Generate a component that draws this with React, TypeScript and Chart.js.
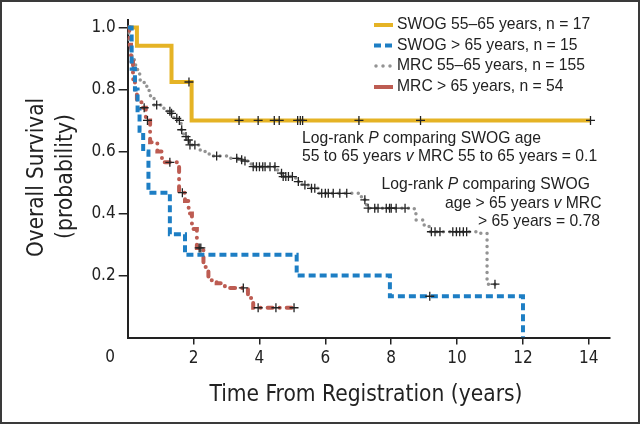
import React, { useEffect, useRef } from "react";
import { Chart, registerables } from "chart.js";

Chart.register(...registerables);

// ---------- data ----------
const X_TICKS = [2, 4, 6, 8, 10, 12, 14];
const Y_TICKS = [0.2, 0.4, 0.6, 0.8, 1.0];

const LEGEND_LABELS = [
  "SWOG 55\u201365 years, n = 17",
  "SWOG > 65 years, n = 15",
  "MRC 55\u201365 years, n = 155",
  "MRC > 65 years, n = 54",
];

// SWOG 55-65
const swogYoungTime = [0, 0.28, 1.33, 1.94, 14.05];
const swogYoungSurv = [1.0, 0.941, 0.824, 0.7, 0.7];
const swogYoungCensor = [1.86, 3.38, 3.96, 4.45, 4.6, 5.16, 5.24, 5.31, 7.02, 8.89, 14.05];

// SWOG > 65
const swogOldTime = [0, 0.12, 0.22, 0.3, 0.36, 0.47, 0.63, 1.28, 1.74, 5.13, 7.96, 12.0];
const swogOldSurv = [1.0, 0.867, 0.8, 0.733, 0.667, 0.6, 0.467, 0.333, 0.267, 0.2, 0.133, 0];
const swogOldCensor = [9.17];

// MRC 55-65
const mrcYoungTime = [0, 0.03, 0.06, 0.1, 0.13, 0.2, 0.24, 0.3, 0.38, 0.5, 0.65, 0.8, 1.1, 1.3, 1.4, 1.55, 1.62, 1.7, 1.8, 1.87, 2.2, 2.35, 2.6, 3.0, 3.4, 3.5, 3.75, 4.55, 4.7, 5.1, 5.3, 5.5, 5.8, 7.0, 7.1, 7.25, 8.7, 8.75, 9.0, 9.15, 10.72, 10.91, 11.15];
const mrcYoungSurv = [1.0, 0.96, 0.94, 0.92, 0.905, 0.88, 0.87, 0.85, 0.83, 0.81, 0.78, 0.75, 0.73, 0.723, 0.707, 0.7, 0.67, 0.648, 0.637, 0.621, 0.605, 0.592, 0.585, 0.578, 0.573, 0.569, 0.551, 0.53, 0.519, 0.503, 0.492, 0.481, 0.465, 0.454, 0.444, 0.417, 0.406, 0.379, 0.363, 0.341, 0.336, 0.172, 0.172];
const mrcYoungCensor = [0.88, 1.28, 1.33, 1.49, 1.57, 1.64, 1.77, 1.84, 1.89, 2.04, 2.7, 3.31, 3.46, 3.56, 3.81, 3.91, 4.0, 4.1, 4.17, 4.32, 4.47, 4.67, 4.72, 4.8, 4.88, 5.0, 5.18, 5.38, 5.58, 5.68, 5.89, 6.0, 6.09, 6.24, 6.44, 6.65, 7.2, 7.3, 7.5, 7.6, 7.85, 7.95, 8.0, 8.15, 8.42, 9.22, 9.33, 9.48, 9.87, 9.98, 10.08, 10.19, 10.29, 11.15];

// MRC > 65
const mrcOldTime = [0, 0.05, 0.1, 0.16, 0.22, 0.28, 0.45, 0.55, 0.68, 0.9, 1.04, 1.56, 1.74, 1.85, 1.95, 2.1, 2.3, 2.45, 2.7, 2.95, 3.65, 3.81, 5.05];
const mrcOldSurv = [1.0, 0.944, 0.889, 0.833, 0.796, 0.759, 0.741, 0.7, 0.63, 0.6, 0.565, 0.467, 0.44, 0.4, 0.35, 0.289, 0.227, 0.185, 0.175, 0.16, 0.127, 0.096, 0.096];
const mrcOldCensor = [0.5, 0.6, 1.28, 1.66, 2.17, 2.22, 3.51, 3.96, 4.5, 5.05];

// ---------- styles ----------
const YELLOW = "#e5b325";
const BLUE = "#1d7ec4";
const GRAY = "#939393";
const RED = "#bd5c52";
const INK = "#222222";
const FONT_COND = "'Liberation Sans Narrow', 'DejaVu Sans Condensed', 'Arial Narrow', Roboto, sans-serif";
const FONT_REG = "'Liberation Sans', Arial, Helvetica, sans-serif";

function stepValue(times: number[], surv: number[], t: number) {
  let v = surv[0];
  for (let i = 0; i < times.length; i++) if (times[i] <= t) v = surv[i];
  return v;
}
function curve(times: number[], surv: number[]) {
  return times.map((t, i) => ({ x: t, y: surv[i] }));
}
function censorPts(times: number[], surv: number[], cens: number[]) {
  return cens.map((t) => ({ x: t, y: stepValue(times, surv, t) }));
}

function fitText(ctx: CanvasRenderingContext2D, text: string, cx: number, cy: number, font: string, width: number, rotate = 0) {
  ctx.save();
  ctx.font = font;
  const w = ctx.measureText(text).width;
  const s = width / w;
  ctx.translate(cx, cy);
  if (rotate) ctx.rotate(rotate);
  ctx.scale(s, 1);
  ctx.textAlign = "center";
  ctx.textBaseline = "middle";
  ctx.fillText(text, 0, 0);
  ctx.restore();
}

type Run = [string, boolean];
function drawRuns(ctx: CanvasRenderingContext2D, runs: Run[], x: number, y: number, size: number) {
  let cx = x;
  ctx.textAlign = "left";
  ctx.textBaseline = "middle";
  for (const [t, it] of runs) {
    ctx.font = `${it ? "italic " : ""}${size}px ${FONT_REG}`;
    ctx.fillText(t, cx, y);
    cx += ctx.measureText(t).width;
  }
}

const decor = {
  id: "decor",
  beforeDraw(chart: any) {
    const ctx = chart.ctx;
    ctx.save();
    ctx.fillStyle = "#fff";
    ctx.fillRect(0, 0, chart.width, chart.height);
    ctx.restore();
  },
  afterDraw(chart: any) {
    const ctx: CanvasRenderingContext2D = chart.ctx;
    ctx.save();
    ctx.fillStyle = INK;
    // origin label
    ctx.font = `17px ${FONT_COND}`;
    ctx.textAlign = "center";
    ctx.textBaseline = "middle";
    ctx.fillText("0", 110, 358);
    // axis titles
    fitText(ctx, "Overall Survival", 37, 177.5, `23px ${FONT_COND}`, 159, -Math.PI / 2);
    fitText(ctx, "(probability)", 66.5, 176.5, `23px ${FONT_COND}`, 125, -Math.PI / 2);
    fitText(ctx, "Time From Registration (years)", 366, 395, `23px ${FONT_COND}`, 313);

    // legend
    const rows = [25, 45.5, 66, 87];
    const x0 = 374, x1 = 393;
    ctx.lineWidth = 4;
    ctx.lineCap = "butt";
    ctx.strokeStyle = YELLOW; ctx.setLineDash([]);
    ctx.beginPath(); ctx.moveTo(x0, rows[0]); ctx.lineTo(x1, rows[0]); ctx.stroke();
    ctx.strokeStyle = BLUE; ctx.setLineDash([7, 4]);
    ctx.beginPath(); ctx.moveTo(x0, rows[1]); ctx.lineTo(x1, rows[1]); ctx.stroke();
    ctx.strokeStyle = GRAY; ctx.setLineDash([0, 7]); ctx.lineCap = "round"; ctx.lineWidth = 3.5;
    ctx.beginPath(); ctx.moveTo(x0 + 2, rows[2]); ctx.lineTo(x1 - 1, rows[2]); ctx.stroke();
    ctx.strokeStyle = RED; ctx.setLineDash([]); ctx.lineCap = "butt"; ctx.lineWidth = 4;
    ctx.beginPath(); ctx.moveTo(x0, rows[3]); ctx.lineTo(x1, rows[3]); ctx.stroke();

    ctx.fillStyle = INK;
    ctx.font = `15.7px ${FONT_REG}`;
    ctx.textAlign = "left";
    ctx.textBaseline = "middle";
    LEGEND_LABELS.forEach((l, i) => ctx.fillText(l, 397, rows[i]));

    // annotations
    const fs = 15.7;
    drawRuns(ctx, [["Log-rank ", false], ["P", true], [" comparing SWOG age", false]], 302, 138.5, fs);
    drawRuns(ctx, [["55 to 65 years ", false], ["v", true], [" MRC 55 to 65 years = 0.1", false]], 302, 157, fs);
    drawRuns(ctx, [["Log-rank ", false], ["P", true], [" comparing SWOG", false]], 381.5, 185, fs);
    drawRuns(ctx, [["age > 65 years ", false], ["v", true], [" MRC", false]], 445, 203.5, fs);
    drawRuns(ctx, [["> 65 years = 0.78", false]], 478, 222, fs);

    // frame
    ctx.setLineDash([]);
    ctx.strokeStyle = "#3a3a3a";
    ctx.lineWidth = 2;
    ctx.strokeRect(1, 1, chart.width - 2, chart.height - 2);
    ctx.restore();
  },
};

export default function App() {
  const ref = useRef<HTMLCanvasElement>(null);
  useEffect(() => {
    const lineBase = { pointRadius: 0, fill: false, stepped: true, tension: 0 };
    const censorBase = {
      showLine: false,
      pointStyle: "cross",
      pointRadius: 4.5,
      pointBorderColor: INK,
      pointBackgroundColor: INK,
      pointBorderWidth: 1.3,
      borderColor: INK,
    };
    const chart = new Chart(ref.current as HTMLCanvasElement, {
      type: "line",
      data: {
        datasets: [
          { ...censorBase, label: "c1", data: censorPts(swogYoungTime, swogYoungSurv, swogYoungCensor), order: 0 },
          { ...censorBase, label: "c2", data: censorPts(swogOldTime, swogOldSurv, swogOldCensor), order: 0 },
          { ...censorBase, label: "c3", data: censorPts(mrcYoungTime, mrcYoungSurv, mrcYoungCensor), order: 0 },
          { ...censorBase, label: "c4", data: censorPts(mrcOldTime, mrcOldSurv, mrcOldCensor), order: 0 },
          { ...lineBase, label: LEGEND_LABELS[0], data: curve(swogYoungTime, swogYoungSurv), borderColor: YELLOW, borderWidth: 4, order: 3 },
          { ...lineBase, label: LEGEND_LABELS[1], data: curve(swogOldTime, swogOldSurv), borderColor: BLUE, borderWidth: 4, borderDash: [7, 4], order: 1 },
          { ...lineBase, label: LEGEND_LABELS[2], data: curve(mrcYoungTime, mrcYoungSurv), borderColor: GRAY, borderWidth: 3.5, borderDash: [0, 6.5], borderCapStyle: "round", order: 4 },
          { ...lineBase, label: LEGEND_LABELS[3], data: curve(mrcOldTime, mrcOldSurv), borderColor: RED, borderWidth: 4, borderDash: [5, 7, 0.1, 7], borderCapStyle: "round", order: 2 },
        ] as any,
      },
      options: {
        responsive: false,
        animation: false,
        devicePixelRatio: 1,
        events: [],
        layout: { padding: { left: 0, right: 30.4, top: 20, bottom: 0 } },
        plugins: { legend: { display: false }, tooltip: { enabled: false } },
        scales: {
          x: {
            type: "linear",
            min: 0,
            max: 14.63,
            afterBuildTicks: (s: any) => { s.ticks = X_TICKS.map((v) => ({ value: v })); },
            afterFit: (s: any) => { s.height = 86.5; },
            ticks: { autoSkip: false, maxRotation: 0, minRotation: 0, color: INK, padding: 4, font: { family: FONT_COND, size: 17 }, callback: (v: any) => String(v) },
            grid: { display: true, drawOnChartArea: false, drawTicks: true, tickLength: 7, color: INK, lineWidth: 1.5 },
            border: { display: true, color: INK, width: 2 },
          },
          y: {
            type: "linear",
            min: 0,
            max: 1.024,
            afterBuildTicks: (s: any) => { s.ticks = Y_TICKS.map((v) => ({ value: v })); },
            afterFit: (s: any) => { s.width = 127.7; },
            ticks: { color: INK, padding: 3, font: { family: FONT_COND, size: 17 }, callback: (v: any) => Number(v).toFixed(1) },
            grid: { display: true, drawOnChartArea: false, drawTicks: true, tickLength: 9, color: INK, lineWidth: 1.5 },
            border: { display: true, color: INK, width: 2 },
          },
        },
      } as any,
      plugins: [decor],
    });
    return () => chart.destroy();
  }, []);
  return (
    <div style={{ position: "fixed", left: 0, top: 0, width: 640, height: 424, background: "#fff" }}>
      <canvas ref={ref} width={640} height={424} style={{ display: "block", width: 640, height: 424 }} />
    </div>
  );
}
